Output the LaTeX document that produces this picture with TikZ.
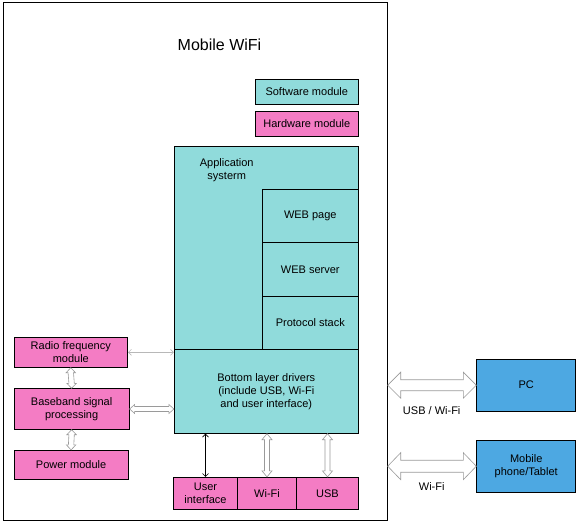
\documentclass[tikz,border=0pt]{standalone}
\usepackage{fontspec}
\setmainfont{Liberation Sans}
\usetikzlibrary{calc,arrows.meta}
\definecolor{teal1}{HTML}{90DBDB}
\definecolor{pink1}{HTML}{F47CC4}
\definecolor{blue1}{HTML}{4DA8E2}
\definecolor{arrgrey}{HTML}{9A9A9A}
\newcommand{\harrow}[5]{%
  \draw[hollow] (#1) -- ($(#1)+(#5,-#4)$) -- ($(#1)+(#5,-#3)$) -- ($(#2)+(-#5,-#3)$) -- ($(#2)+(-#5,-#4)$) -- (#2)
   -- ($(#2)+(-#5,#4)$) -- ($(#2)+(-#5,#3)$) -- ($(#1)+(#5,#3)$) -- ($(#1)+(#5,#4)$) -- cycle;}
\newcommand{\varrow}[5]{%
  \draw[hollow] (#1) -- ($(#1)+(-#4,#5)$) -- ($(#1)+(-#3,#5)$) -- ($(#2)+(-#3,-#5)$) -- ($(#2)+(-#4,-#5)$) -- (#2)
   -- ($(#2)+(#4,-#5)$) -- ($(#2)+(#3,-#5)$) -- ($(#1)+(#3,#5)$) -- ($(#1)+(#4,#5)$) -- cycle;}
\begin{document}
\begin{tikzpicture}[x=1pt,y=-1pt,
  box/.style={draw=black,line width=0.8pt,inner sep=0pt,align=center,font=\fontsize{11}{13}\selectfont},
  sw/.style={box,fill=teal1},
  hw/.style={box,fill=pink1},
  dev/.style={box,fill=blue1},
  hollow/.style={draw=arrgrey,line width=0.6pt,fill=white,line join=miter},
  thinarr/.style={line width=0.6pt,{Straight Barb[length=3pt,width=6pt]}-{Straight Barb[length=3pt,width=6pt]}},
  lbl/.style={font=\fontsize{11}{13}\selectfont,inner sep=0pt}]
\useasboundingbox (0,0) rectangle (583,522);
\node[draw=black,line width=0.8pt,minimum width=384pt,minimum height=517.7pt] (frame) at (195.3,261.2) {};
\node[lbl,font=\fontsize{16}{18}\selectfont] (title) at (219.5,45) {Mobile WiFi};
\node[sw,minimum width=103pt,minimum height=25pt] (swl) at (306.8,91.8) {Software module};
\node[hw,minimum width=103pt,minimum height=25.5pt] (hwl) at (306.8,123.8) {Hardware module};
\node[sw,minimum width=184pt,minimum height=202.6pt] (app) at (266.3,248) {};
\node[lbl,align=center] (apptxt) at (226.7,170.5) {Application\\systerm};
\node[sw,minimum width=96pt,minimum height=53.4pt] (wp) at (310.3,216) {WEB page};
\node[sw,minimum width=96pt,minimum height=53.6pt] (ws) at (310.3,269.5) {WEB server};
\node[sw,minimum width=96pt,minimum height=53pt] (ps) at (310.3,322.8) {Protocol stack};
\node[sw,minimum width=184pt,minimum height=84pt] (bld) at (266.3,391.3) {Bottom layer drivers\\(include USB, Wi-Fi\\and user interface)};
\node[hw,minimum width=113.7pt,minimum height=30pt] (rf) at (70.8,352.3) {Radio frequency\\module};
\node[hw,minimum width=115.3pt,minimum height=40.6pt] (bb) at (71.6,409) {Baseband signal\\processing};
\node[hw,minimum width=114.3pt,minimum height=29pt] (pw) at (71.1,464.8) {Power module};
\node[hw,minimum width=64.4pt,minimum height=32pt] (ui) at (205.5,493.3) {User\\interface};
\node[hw,minimum width=58.6pt,minimum height=32pt] (wifi) at (267,493.3) {Wi-Fi};
\node[hw,minimum width=62.4pt,minimum height=32pt] (usb) at (327.5,493.3) {USB};
\node[dev,minimum width=99pt,minimum height=51.7pt] (pc) at (526.2,385.2) {PC};
\node[dev,minimum width=99pt,minimum height=52.3pt] (mob) at (526.2,466.2) {Mobile\\phone/Tablet};
\node[lbl] (l1) at (431.7,410.3) {USB / Wi-Fi};
\node[lbl] (l2) at (431.7,486.7) {Wi-Fi};
% connectors
\coordinate (a1) at (frame.east |- pc.west);
\harrow{a1}{pc.west}{5.5}{13}{13}
\coordinate (a2) at (frame.east |- mob.west);
\harrow{a2}{mob.west}{6}{13.5}{13}
\draw[thinarr,draw=arrgrey!70] (rf.east) -- (bld.west |- rf.east);
\coordinate (b1) at (bld.west |- bb.east);
\harrow{bb.east}{b1}{2.5}{4.5}{5}
\varrow{rf.south}{bb.north}{2.7}{4.7}{5}
\varrow{bb.south}{pw.north}{2.7}{4.7}{5}
\draw[thinarr,draw=black] (bld.south -| ui.north) -- (ui.north);
\coordinate (c1) at (bld.south -| wifi.north);
\varrow{c1}{wifi.north}{2.5}{5}{6}
\coordinate (c2) at (bld.south -| usb.north);
\varrow{c2}{usb.north}{2.5}{5}{6}
\end{tikzpicture}
\end{document}
